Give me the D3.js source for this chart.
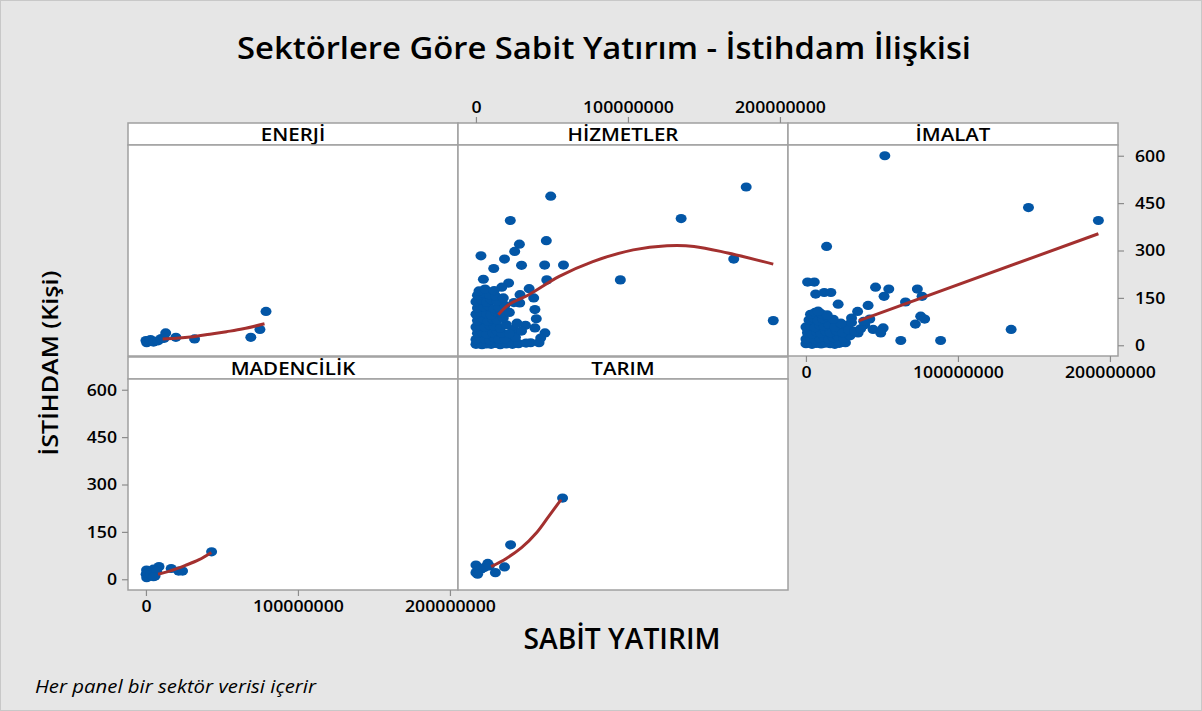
<!DOCTYPE html>
<html>
<head>
<meta charset="utf-8">
<script src="https://cdn.jsdelivr.net/npm/d3@7"></script>
<style>
  body { margin: 0; background: #e6e6e6; }
  svg { display: block; font-family: "Open Sans", "Noto Sans", sans-serif; }
</style>
</head>
<body>
<svg></svg>
<script>
// değerler milyon TL cinsinden (yatırım) ve kişi (istihdam)
const sektorler = ["ENERJİ", "HİZMETLER", "İMALAT", "MADENCİLİK", "TARIM"];

const enerjiYatirim  = [0, 0.5, 1, 2.4, 3, 5, 8, 10, 12, 13, 19.7, 32, 69, 75, 79];
const enerjiIstihdam = [15, 8, 12, 15, 18, 10, 14, 21, 22, 39, 25, 20, 25, 50, 107];
const enerjiTrendX = [11, 20, 31, 42, 53, 64, 78];
const enerjiTrendY = [20, 22, 27, 35, 43, 52, 68];

const hizmetlerYatirim = [
  177.8, 49.2, 135, 22.6, 46.3, 28.6, 25.5, 3.3, 18.8, 30, 45.2, 57.6, 169.6, 11.7, 4.9, 95, 46.6, 21.5, 17, 35,
  195.6, 38, 29, 38.8, 39.7, 32.6, 38.8, 45.4, 42.6, 36, 41.5, 28.8, 24.8, 23.7,
  0, 2, 4, 7, 10, 13, 16, 20, 24, 28, 33,
  0, 3, 6, 9, 12, 15, 19, 26,
  1, 4, 7, 11, 14, 17, 22, 30,
  0, 3, 6, 9, 12, 16, 20, 27,
  1, 5, 8, 11, 14, 18,
  0, 3, 7, 10, 13, 17, 22,
  1, 5, 8, 12, 15, 19,
  0, 4, 7, 10, 14, 25,
  1, 5, 9, 13, 18,
  2, 6, 12
];
const hizmetlerIstihdam = [
  501, 472, 401, 395, 331, 320, 297, 283, 273, 253, 254, 254, 273, 243, 209, 207, 207, 197, 184, 179,
  78, 150, 160, 113, 84, 63, 55, 39, 23, 8, 8, 134, 50, 18,
  3, 5, 2, 4, 3, 6, 2, 4, 3, 5, 7,
  18, 22, 20, 17, 24, 19, 21, 25,
  38, 42, 36, 40, 44, 39, 37, 45,
  58, 62, 57, 63, 60, 55, 65, 70,
  78, 84, 76, 82, 79, 86,
  98, 104, 100, 96, 106, 101, 104,
  118, 122, 125, 116, 120, 126,
  138, 142, 136, 144, 140, 135,
  158, 165, 160, 155, 150,
  172, 178, 173
];
const hizmetlerTrendX = [14.8, 21.5, 34.8, 54.8, 76.9, 103.5, 125.7, 143.5, 165.7, 195.6];
const hizmetlerTrendY = [97, 128, 160, 218, 265, 302, 315, 313, 292, 257];

const imalatYatirim = [
  51.9, 146.4, 192.4, 13.6, 1.1, 5.5, 45.8, 54.5, 73.3, 51.4, 76.4, 6.4, 12, 16.4, 65.5, 40.9, 21.2, 42, 75.5, 78.1,
  72, 44.2, 50.8, 49.2, 135, 62.4, 88.6, 23, 34, 30, 27.8, 34.3, 25.6, 38.7,
  0, 2, 4, 7, 10, 13, 16, 19, 22, 26,
  0, 3, 6, 9, 12, 15, 18, 21, 25, 29,
  1, 4, 7, 10, 13, 16, 20, 24, 28, 32, 36,
  0, 3, 6, 9, 12, 15, 19, 23, 30, 38,
  2, 5, 8, 11, 14, 18,
  3, 6, 10, 14, 8
];
const imalatIstihdam = [
  600, 436, 395, 313, 200, 200, 184, 178, 178, 155, 155, 162, 167, 167, 137, 126, 130, 83, 92, 83,
  67, 50, 55, 39, 50, 15, 15, 9, 107, 86, 65, 39, 50, 65,
  5, 8, 3, 6, 4, 7, 5, 3, 6, 8,
  20, 24, 18, 22, 26, 20, 24, 28, 22, 30,
  40, 36, 42, 38, 44, 40, 46, 40, 48, 44, 52,
  58, 62, 56, 64, 60, 66, 58, 70, 72, 76,
  80, 86, 78, 84, 90, 82,
  98, 104, 100, 96, 108
];
const imalatTrendX = [35, 192.4];
const imalatTrendY = [78, 353];

const madencilikYatirim  = [43.2, 16.6, 21.5, 24.1, 8.6, 4.9, 0.4, 0.1, 2, 6, 0.5, 1, 3, 7, 5];
const madencilikIstihdam = [87, 34, 26, 26, 40, 32, 29, 16, 10, 10, 5, 20, 15, 25, 8];
const madencilikTrendX = [8, 15, 26, 35, 43];
const madencilikTrendY = [16, 25, 44, 62, 85];

const tarimYatirim  = [57, 22.8, 18.8, 12.8, 7.8, 0, 0, 3.3, 5.5, 1.1, 8.8];
const tarimIstihdam = [257, 109, 39, 21, 50, 45, 21, 32, 37, 16, 42];
const tarimTrendX = [10, 20, 30, 40, 48, 56];
const tarimTrendY = [40, 66, 100, 148, 200, 252];

const xTicks = [0, 100, 200];          // milyon
const yTicks = [0, 150, 300, 450, 600];

const W = 1202, H = 711;
const svg = d3.select("svg").attr("width", W).attr("height", H);

svg.append("rect").attr("x", 0.5).attr("y", 0.5).attr("width", W - 1).attr("height", H - 1)
  .attr("fill", "#e6e6e6").attr("stroke", "#c8c8c8");

// yazıyı yatayda biraz genişlet (referanstaki font daha geniş)
function genislet(sel, k) {
  sel.each(function() {
    const w = this.getComputedTextLength();
    d3.select(this).attr("textLength", w * k).attr("lengthAdjust", "spacingAndGlyphs");
  });
}

// başlıklar
svg.append("text").attr("x", 604).attr("y", 59).attr("text-anchor", "middle")
  .attr("font-size", 31).attr("font-weight", 600)
  .attr("textLength", 734).attr("lengthAdjust", "spacingAndGlyphs")
  .text("Sektörlere Göre Sabit Yatırım - İstihdam İlişkisi");
svg.append("text").attr("transform", "translate(58,363) rotate(-90)").attr("text-anchor", "middle")
  .attr("font-size", 22).attr("font-weight", 600)
  .attr("textLength", 185).attr("lengthAdjust", "spacingAndGlyphs")
  .text("İSTİHDAM (Kişi)");
svg.append("text").attr("x", 622).attr("y", 649).attr("text-anchor", "middle")
  .attr("font-size", 28).attr("font-weight", 600)
  .attr("textLength", 197).attr("lengthAdjust", "spacingAndGlyphs")
  .text("SABİT YATIRIM");
svg.append("text").attr("x", 35).attr("y", 693).attr("font-size", 17.5).attr("font-style", "italic")
  .attr("textLength", 281).attr("lengthAdjust", "spacingAndGlyphs")
  .text("Her panel bir sektör verisi içerir");

const panelW = 330, stripH = 22, plotH = 211;
const colLeft = [128, 458, 788];
const rowTop = [123, 357];

const x = d3.scaleLinear().domain([-11.8, 205.3]).range([0, panelW]);
const y = d3.scaleLinear().domain([-34, 634]).range([plotH, 0]);

const paneller = [
  { ad: sektorler[0], c: 0, r: 0, xs: enerjiYatirim, ys: enerjiIstihdam, tx: enerjiTrendX, ty: enerjiTrendY },
  { ad: sektorler[1], c: 1, r: 0, xs: hizmetlerYatirim, ys: hizmetlerIstihdam, tx: hizmetlerTrendX, ty: hizmetlerTrendY, top: true },
  { ad: sektorler[2], c: 2, r: 0, xs: imalatYatirim, ys: imalatIstihdam, tx: imalatTrendX, ty: imalatTrendY, right: true, bottom: true },
  { ad: sektorler[3], c: 0, r: 1, xs: madencilikYatirim, ys: madencilikIstihdam, tx: madencilikTrendX, ty: madencilikTrendY, left: true, bottom: true },
  { ad: sektorler[4], c: 1, r: 1, xs: tarimYatirim, ys: tarimIstihdam, tx: tarimTrendX, ty: tarimTrendY }
];

const fmtX = d => String(d * 1000000);

function styleAxis(g) {
  g.select(".domain").remove();
  g.selectAll(".tick line").attr("stroke", "#8c8c8c").attr("stroke-width", 1.2);
  g.selectAll(".tick text").attr("fill", "#000").attr("font-size", 16.5).attr("font-weight", 600)
    .attr("font-family", "Open Sans, sans-serif")
    .call(genislet, 1.07);
}

paneller.forEach(p => {
  const g = svg.append("g").attr("transform", `translate(${colLeft[p.c]},${rowTop[p.r]})`);

  // şerit
  g.append("rect").attr("width", panelW).attr("height", stripH)
    .attr("fill", "#fff").attr("stroke", "#a0a0a0").attr("stroke-width", 1.5);
  g.append("text").attr("x", panelW / 2).attr("y", 17.5).attr("text-anchor", "middle")
    .attr("font-size", 17.5).attr("font-weight", 600).text(p.ad)
    .call(genislet, 1.17);

  const pg = g.append("g").attr("transform", `translate(0,${stripH})`);
  pg.append("rect").attr("width", panelW).attr("height", plotH)
    .attr("fill", "#fff").attr("stroke", "#a0a0a0").attr("stroke-width", 1.5);

  if (p.left) pg.append("g").call(d3.axisLeft(y).tickValues(yTicks).tickSize(6).tickPadding(5)).call(styleAxis);
  if (p.right) pg.append("g").attr("transform", `translate(${panelW},0)`)
    .call(d3.axisRight(y).tickValues(yTicks).tickSize(6).tickPadding(11)).call(styleAxis);
  if (p.bottom) pg.append("g").attr("transform", `translate(0,${plotH})`)
    .call(d3.axisBottom(x).tickValues(xTicks).tickFormat(fmtX).tickSize(6).tickPadding(4)).call(styleAxis);
  if (p.top) pg.append("g").attr("transform", `translate(0,${-stripH})`)
    .call(d3.axisTop(x).tickValues(xTicks).tickFormat(fmtX).tickSize(6).tickPadding(4)).call(styleAxis);

  const noktalar = p.xs.map((v, i) => [v, p.ys[i]]);
  pg.selectAll("ellipse").data(noktalar).enter().append("ellipse")
    .attr("cx", d => x(d[0])).attr("cy", d => y(d[1]))
    .attr("rx", 5.5).attr("ry", 4.6).attr("fill", "#0356a6");

  const trend = p.tx.map((v, i) => [v, p.ty[i]]);
  pg.append("path").datum(trend)
    .attr("d", d3.line().x(d => x(d[0])).y(d => y(d[1])).curve(d3.curveCatmullRom))
    .attr("fill", "none").attr("stroke", "#a3302f").attr("stroke-width", 3);
});
</script>
</body>
</html>
